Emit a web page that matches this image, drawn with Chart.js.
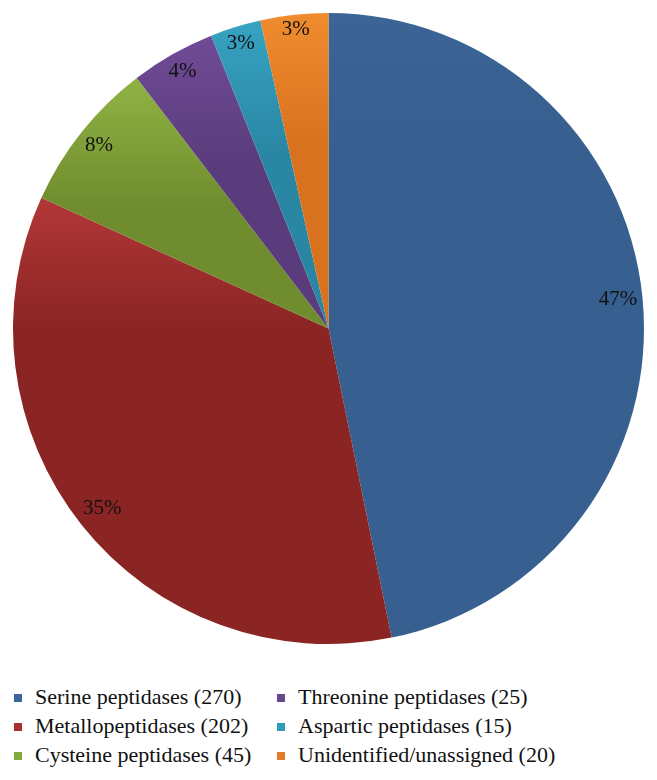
<!DOCTYPE html>
<html>
<head>
<meta charset="utf-8">
<script src="https://cdn.jsdelivr.net/npm/chart.js@4"></script>
<style>
  body { margin: 0; background: #fff; }
  #wrap { position: absolute; left: 0; top: 0; width: 657px; height: 657px; }
  .item { position: absolute; font-family: 'Liberation Serif', 'DejaVu Serif', 'Noto Serif', Tinos, 'Times New Roman', FreeSerif, Georgia, serif; font-size: 22px; color: #111; white-space: nowrap; line-height: 22px; }
  .box { position: absolute; width: 8px; height: 8px; }
</style>
</head>
<body>
<div id="wrap"><canvas id="pie"></canvas></div>
<div id="legend"></div>
<script>
// Data
const labels = ['Serine peptidases', 'Metallopeptidases', 'Cysteine peptidases',
                'Threonine peptidases', 'Aspartic peptidases', 'Unidentified/unassigned'];
const counts = [270, 202, 45, 25, 15, 20];
const percentLabels = ['47%', '35%', '8%', '4%', '3%', '3%'];

// Colours: base and lighter top tone for each slice
const baseColors  = ['#375f8f', '#8a2524', '#6f8c2e', '#5a3c7c', '#2a87a4', '#d8721f'];
const lightColors = ['#3b6596', '#b33737', '#90b344', '#704b96', '#37a3c2', '#f08c2f'];
const legendColors = ['#3b6699', '#aa302f', '#85a93c', '#66468c', '#2f9bb9', '#e67d26'];

const serifStack = "'Liberation Serif', 'DejaVu Serif', 'Noto Serif', Tinos, 'Times New Roman', FreeSerif, Georgia, serif";

const total = counts.reduce((a, b) => a + b, 0);

// Vertical gradient per slice, light at the top of the slice
function sliceFill(ctx) {
    const chart = ctx.chart;
    const area = chart.chartArea;
    const i = ctx.dataIndex;
    if (!area || i === undefined) return baseColors[i || 0];
    const cx = (area.left + area.right) / 2;
    const cy = (area.top + area.bottom) / 2;
    const R = Math.min(area.right - area.left, area.bottom - area.top) / 2;
    let before = 0;
    for (let k = 0; k < i; k++) before += counts[k];
    const a0 = -Math.PI / 2 + 2 * Math.PI * before / total;
    const a1 = -Math.PI / 2 + 2 * Math.PI * (before + counts[i]) / total;
    let top = Math.min(cy, cy + R * Math.sin(a0), cy + R * Math.sin(a1));
    if (a0 <= -Math.PI / 2 + 1e-6 || a1 >= 1.5 * Math.PI - 1e-6) top = cy - R;
    const g = chart.ctx.createLinearGradient(0, top, 0, top + 130);
    g.addColorStop(0, lightColors[i]);
    g.addColorStop(1, baseColors[i]);
    return g;
}

// Percent labels placed just inside the outer edge
const insideEndLabels = {
    id: 'insideEndLabels',
    afterDatasetsDraw(chart) {
        const c = chart.ctx;
        const meta = chart.getDatasetMeta(0);
        c.save();
        c.font = '21px ' + serifStack;
        c.fillStyle = '#111';
        c.textAlign = 'center';
        c.textBaseline = 'middle';
        meta.data.forEach((arc, i) => {
            const p = arc.getProps(['x', 'y', 'startAngle', 'endAngle', 'outerRadius'], true);
            const mid = (p.startAngle + p.endAngle) / 2;
            const w = c.measureText(percentLabels[i]).width + 8;
            const h = 26;
            const d = Math.abs(Math.cos(mid)) * w / 2 + Math.abs(Math.sin(mid)) * h / 2;
            const r = p.outerRadius - d;
            c.fillText(percentLabels[i], p.x + Math.cos(mid) * r, p.y + Math.sin(mid) * r);
        });
        c.restore();
    }
};

new Chart(document.getElementById('pie'), {
    type: 'pie',
    data: {
        labels: labels,
        datasets: [{
            data: counts,
            backgroundColor: sliceFill,
            borderWidth: 0
        }]
    },
    options: {
        responsive: true,
        maintainAspectRatio: false,
        animation: false,
        layout: { padding: 13 },
        plugins: {
            legend: { display: false },
            tooltip: { enabled: false }
        }
    },
    plugins: [insideEndLabels]
});

// Legend, two columns filled top to bottom
const legend = document.getElementById('legend');
const colBox = [14, 277];
const colText = [35, 298];
const rowY = [698, 727, 756];
labels.forEach((name, i) => {
    const col = Math.floor(i / 3);
    const row = i % 3;
    const box = document.createElement('div');
    box.className = 'box';
    box.style.left = colBox[col] + 'px';
    box.style.top = (rowY[row] - 4) + 'px';
    box.style.background = legendColors[i];
    legend.appendChild(box);
    const txt = document.createElement('div');
    txt.className = 'item';
    txt.style.left = colText[col] + 'px';
    txt.style.top = (rowY[row] - 12) + 'px';
    txt.textContent = name + ' (' + counts[i] + ')';
    legend.appendChild(txt);
});
</script>
</body>
</html>
